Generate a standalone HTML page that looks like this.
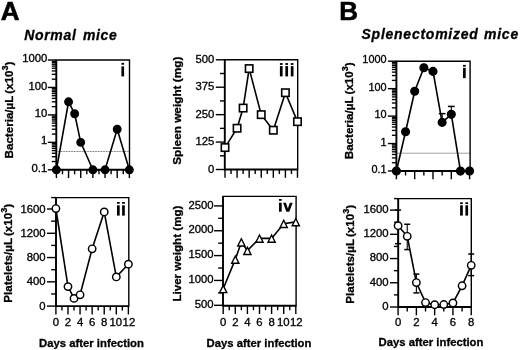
<!DOCTYPE html>
<html><head><meta charset="utf-8"><style>
html,body{margin:0;padding:0;background:#fff;}
svg{display:block;font-family:"Liberation Sans", sans-serif;filter:grayscale(1);}
</style></head><body>
<svg width="520" height="350" viewBox="0 0 520 350" stroke="#000" fill="#000">
<line x1="47.80" y1="60.00" x2="56.30" y2="60.00" stroke-width="1.4" />
<text stroke="#000" stroke-width="0.3" transform="translate(47.30,62.10) scale(1.12,1)" font-size="10.1" text-anchor="end">1000</text>
<line x1="47.80" y1="87.45" x2="56.30" y2="87.45" stroke-width="1.4" />
<text stroke="#000" stroke-width="0.3" transform="translate(47.30,89.55) scale(1.12,1)" font-size="10.1" text-anchor="end">100</text>
<line x1="47.80" y1="114.90" x2="56.30" y2="114.90" stroke-width="1.4" />
<text stroke="#000" stroke-width="0.3" transform="translate(47.30,117.00) scale(1.12,1)" font-size="10.1" text-anchor="end">10</text>
<line x1="47.80" y1="142.35" x2="56.30" y2="142.35" stroke-width="1.4" />
<text stroke="#000" stroke-width="0.3" transform="translate(47.30,144.45) scale(1.12,1)" font-size="10.1" text-anchor="end">1</text>
<line x1="47.80" y1="169.80" x2="56.30" y2="169.80" stroke-width="1.4" />
<text stroke="#000" stroke-width="0.3" transform="translate(47.30,171.90) scale(1.12,1)" font-size="10.1" text-anchor="end">0.1</text>
<line x1="51.80" y1="161.54" x2="56.30" y2="161.54" stroke-width="1.35" />
<line x1="51.80" y1="156.70" x2="56.30" y2="156.70" stroke-width="1.35" />
<line x1="51.80" y1="153.27" x2="56.30" y2="153.27" stroke-width="1.35" />
<line x1="51.80" y1="150.61" x2="56.30" y2="150.61" stroke-width="1.35" />
<line x1="51.80" y1="148.44" x2="56.30" y2="148.44" stroke-width="1.35" />
<line x1="51.80" y1="146.60" x2="56.30" y2="146.60" stroke-width="1.35" />
<line x1="51.80" y1="145.01" x2="56.30" y2="145.01" stroke-width="1.35" />
<line x1="51.80" y1="143.61" x2="56.30" y2="143.61" stroke-width="1.35" />
<line x1="51.80" y1="134.09" x2="56.30" y2="134.09" stroke-width="1.35" />
<line x1="51.80" y1="129.25" x2="56.30" y2="129.25" stroke-width="1.35" />
<line x1="51.80" y1="125.82" x2="56.30" y2="125.82" stroke-width="1.35" />
<line x1="51.80" y1="123.16" x2="56.30" y2="123.16" stroke-width="1.35" />
<line x1="51.80" y1="120.99" x2="56.30" y2="120.99" stroke-width="1.35" />
<line x1="51.80" y1="119.15" x2="56.30" y2="119.15" stroke-width="1.35" />
<line x1="51.80" y1="117.56" x2="56.30" y2="117.56" stroke-width="1.35" />
<line x1="51.80" y1="116.16" x2="56.30" y2="116.16" stroke-width="1.35" />
<line x1="51.80" y1="106.64" x2="56.30" y2="106.64" stroke-width="1.35" />
<line x1="51.80" y1="101.80" x2="56.30" y2="101.80" stroke-width="1.35" />
<line x1="51.80" y1="98.37" x2="56.30" y2="98.37" stroke-width="1.35" />
<line x1="51.80" y1="95.71" x2="56.30" y2="95.71" stroke-width="1.35" />
<line x1="51.80" y1="93.54" x2="56.30" y2="93.54" stroke-width="1.35" />
<line x1="51.80" y1="91.70" x2="56.30" y2="91.70" stroke-width="1.35" />
<line x1="51.80" y1="90.11" x2="56.30" y2="90.11" stroke-width="1.35" />
<line x1="51.80" y1="88.71" x2="56.30" y2="88.71" stroke-width="1.35" />
<line x1="51.80" y1="79.19" x2="56.30" y2="79.19" stroke-width="1.35" />
<line x1="51.80" y1="74.35" x2="56.30" y2="74.35" stroke-width="1.35" />
<line x1="51.80" y1="70.92" x2="56.30" y2="70.92" stroke-width="1.35" />
<line x1="51.80" y1="68.26" x2="56.30" y2="68.26" stroke-width="1.35" />
<line x1="51.80" y1="66.09" x2="56.30" y2="66.09" stroke-width="1.35" />
<line x1="51.80" y1="64.25" x2="56.30" y2="64.25" stroke-width="1.35" />
<line x1="51.80" y1="62.66" x2="56.30" y2="62.66" stroke-width="1.35" />
<line x1="51.80" y1="61.26" x2="56.30" y2="61.26" stroke-width="1.35" />
<line x1="56.30" y1="151.5" x2="129.50" y2="151.5" stroke-width="0.9" stroke="#666" stroke-dasharray="1,0.6"/>
<path d="M129.50,169.80 L129.50,60.00 L56.30,60.00" fill="none" stroke-width="1.4" stroke-linejoin="miter" stroke-linecap="square"/>
<path d="M56.30,60.00 L56.30,169.80 L129.50,169.80" fill="none" stroke-width="1.9" stroke-linejoin="miter" stroke-linecap="butt"/>
<line x1="56.40" y1="169.80" x2="56.40" y2="178.10" stroke-width="1.4" />
<line x1="62.48" y1="169.80" x2="62.48" y2="174.30" stroke-width="1.4" />
<line x1="68.56" y1="169.80" x2="68.56" y2="178.10" stroke-width="1.4" />
<line x1="74.64" y1="169.80" x2="74.64" y2="174.30" stroke-width="1.4" />
<line x1="80.72" y1="169.80" x2="80.72" y2="178.10" stroke-width="1.4" />
<line x1="86.80" y1="169.80" x2="86.80" y2="174.30" stroke-width="1.4" />
<line x1="92.88" y1="169.80" x2="92.88" y2="178.10" stroke-width="1.4" />
<line x1="98.96" y1="169.80" x2="98.96" y2="174.30" stroke-width="1.4" />
<line x1="105.04" y1="169.80" x2="105.04" y2="178.10" stroke-width="1.4" />
<line x1="111.12" y1="169.80" x2="111.12" y2="174.30" stroke-width="1.4" />
<line x1="117.20" y1="169.80" x2="117.20" y2="178.10" stroke-width="1.4" />
<line x1="123.28" y1="169.80" x2="123.28" y2="174.30" stroke-width="1.4" />
<line x1="129.36" y1="169.80" x2="129.36" y2="178.10" stroke-width="1.4" />
<polyline points="56.40,169.80 68.56,101.80 74.64,113.76 80.72,142.35 92.88,169.80 105.04,169.80 117.20,129.25 129.36,169.80" fill="none" stroke="#000" stroke-width="1.6" stroke-linejoin="miter"/>
<circle cx="56.40" cy="169.80" r="3.75" fill="#000" stroke="#000" stroke-width="1.4"/>
<circle cx="68.56" cy="101.80" r="3.75" fill="#000" stroke="#000" stroke-width="1.4"/>
<circle cx="74.64" cy="113.76" r="3.75" fill="#000" stroke="#000" stroke-width="1.4"/>
<circle cx="80.72" cy="142.35" r="3.75" fill="#000" stroke="#000" stroke-width="1.4"/>
<circle cx="92.88" cy="169.80" r="3.75" fill="#000" stroke="#000" stroke-width="1.4"/>
<circle cx="105.04" cy="169.80" r="3.75" fill="#000" stroke="#000" stroke-width="1.4"/>
<circle cx="117.20" cy="129.25" r="3.75" fill="#000" stroke="#000" stroke-width="1.4"/>
<circle cx="129.36" cy="169.80" r="3.75" fill="#000" stroke="#000" stroke-width="1.4"/>
<rect stroke="none" x="121.40" y="62.90" width="2.70" height="1.80"/>
<rect stroke="none" x="121.40" y="66.40" width="2.70" height="10.00"/>
<text stroke="#000" stroke-width="0.3" transform="translate(12.50,110.00) rotate(-90)" font-size="11.6" font-weight="bold" text-anchor="middle" word-spacing="-1">Bacteria/µL (x10<tspan font-size="9" dy="-5">3</tspan><tspan dy="5">)</tspan></text>
<line x1="215.80" y1="169.50" x2="224.80" y2="169.50" stroke-width="1.4" />
<text stroke="#000" stroke-width="0.3" transform="translate(214.40,172.50) scale(1.07,1)" font-size="10.6" text-anchor="end">0</text>
<line x1="215.80" y1="142.07" x2="224.80" y2="142.07" stroke-width="1.4" />
<text stroke="#000" stroke-width="0.3" transform="translate(214.40,145.07) scale(1.07,1)" font-size="10.6" text-anchor="end">125</text>
<line x1="215.80" y1="114.65" x2="224.80" y2="114.65" stroke-width="1.4" />
<text stroke="#000" stroke-width="0.3" transform="translate(214.40,117.65) scale(1.07,1)" font-size="10.6" text-anchor="end">250</text>
<line x1="215.80" y1="87.22" x2="224.80" y2="87.22" stroke-width="1.4" />
<text stroke="#000" stroke-width="0.3" transform="translate(214.40,90.22) scale(1.07,1)" font-size="10.6" text-anchor="end">375</text>
<line x1="215.80" y1="59.80" x2="224.80" y2="59.80" stroke-width="1.4" />
<text stroke="#000" stroke-width="0.3" transform="translate(214.40,62.80) scale(1.07,1)" font-size="10.6" text-anchor="end">500</text>
<line x1="220.00" y1="155.79" x2="224.80" y2="155.79" stroke-width="1.4" />
<line x1="220.00" y1="128.36" x2="224.80" y2="128.36" stroke-width="1.4" />
<line x1="220.00" y1="100.94" x2="224.80" y2="100.94" stroke-width="1.4" />
<line x1="220.00" y1="73.51" x2="224.80" y2="73.51" stroke-width="1.4" />
<path d="M297.70,169.50 L297.70,59.80 L224.80,59.80" fill="none" stroke-width="1.4" stroke-linejoin="miter" stroke-linecap="square"/>
<path d="M224.80,59.80 L224.80,169.50 L297.70,169.50" fill="none" stroke-width="1.9" stroke-linejoin="miter" stroke-linecap="butt"/>
<line x1="225.00" y1="169.50" x2="225.00" y2="177.80" stroke-width="1.4" />
<line x1="231.04" y1="169.50" x2="231.04" y2="174.00" stroke-width="1.4" />
<line x1="237.08" y1="169.50" x2="237.08" y2="177.80" stroke-width="1.4" />
<line x1="243.12" y1="169.50" x2="243.12" y2="174.00" stroke-width="1.4" />
<line x1="249.16" y1="169.50" x2="249.16" y2="177.80" stroke-width="1.4" />
<line x1="255.20" y1="169.50" x2="255.20" y2="174.00" stroke-width="1.4" />
<line x1="261.24" y1="169.50" x2="261.24" y2="177.80" stroke-width="1.4" />
<line x1="267.28" y1="169.50" x2="267.28" y2="174.00" stroke-width="1.4" />
<line x1="273.32" y1="169.50" x2="273.32" y2="177.80" stroke-width="1.4" />
<line x1="279.36" y1="169.50" x2="279.36" y2="174.00" stroke-width="1.4" />
<line x1="285.40" y1="169.50" x2="285.40" y2="177.80" stroke-width="1.4" />
<line x1="291.44" y1="169.50" x2="291.44" y2="174.00" stroke-width="1.4" />
<line x1="297.48" y1="169.50" x2="297.48" y2="177.80" stroke-width="1.4" />
<polyline points="225.00,147.56 237.08,128.25 243.12,108.07 249.16,68.58 261.24,114.65 273.32,130.23 285.40,92.71 297.48,121.67" fill="none" stroke="#000" stroke-width="1.6" stroke-linejoin="miter"/>
<rect x="221.30" y="143.86" width="7.4" height="7.4" fill="#fff" stroke="#000" stroke-width="1.6"/>
<rect x="233.38" y="124.55" width="7.4" height="7.4" fill="#fff" stroke="#000" stroke-width="1.6"/>
<rect x="239.42" y="104.37" width="7.4" height="7.4" fill="#fff" stroke="#000" stroke-width="1.6"/>
<rect x="245.46" y="64.88" width="7.4" height="7.4" fill="#fff" stroke="#000" stroke-width="1.6"/>
<rect x="257.54" y="110.95" width="7.4" height="7.4" fill="#fff" stroke="#000" stroke-width="1.6"/>
<rect x="269.62" y="126.53" width="7.4" height="7.4" fill="#fff" stroke="#000" stroke-width="1.6"/>
<rect x="281.70" y="89.01" width="7.4" height="7.4" fill="#fff" stroke="#000" stroke-width="1.6"/>
<rect x="293.78" y="117.97" width="7.4" height="7.4" fill="#fff" stroke="#000" stroke-width="1.6"/>
<rect stroke="none" x="279.90" y="63.10" width="2.70" height="1.80"/>
<rect stroke="none" x="279.90" y="66.10" width="2.70" height="10.30"/>
<rect stroke="none" x="285.35" y="63.10" width="2.70" height="1.80"/>
<rect stroke="none" x="285.35" y="66.10" width="2.70" height="10.30"/>
<rect stroke="none" x="290.80" y="63.10" width="2.70" height="1.80"/>
<rect stroke="none" x="290.80" y="66.10" width="2.70" height="10.30"/>
<text stroke="#000" stroke-width="0.3" transform="translate(180.90,110.70) rotate(-90)" font-size="11.8" font-weight="bold" text-anchor="middle" word-spacing="0">Spleen weight (mg)</text>
<line x1="47.00" y1="306.10" x2="56.00" y2="306.10" stroke-width="1.4" />
<text stroke="#000" stroke-width="0.3" transform="translate(45.60,309.70) scale(1.07,1)" font-size="10.6" text-anchor="end">0</text>
<line x1="47.00" y1="281.83" x2="56.00" y2="281.83" stroke-width="1.4" />
<text stroke="#000" stroke-width="0.3" transform="translate(45.60,285.43) scale(1.07,1)" font-size="10.6" text-anchor="end">400</text>
<line x1="47.00" y1="257.55" x2="56.00" y2="257.55" stroke-width="1.4" />
<text stroke="#000" stroke-width="0.3" transform="translate(45.60,261.15) scale(1.07,1)" font-size="10.6" text-anchor="end">800</text>
<line x1="47.00" y1="233.28" x2="56.00" y2="233.28" stroke-width="1.4" />
<text stroke="#000" stroke-width="0.3" transform="translate(45.60,236.88) scale(1.07,1)" font-size="10.6" text-anchor="end">1200</text>
<line x1="47.00" y1="209.00" x2="56.00" y2="209.00" stroke-width="1.4" />
<text stroke="#000" stroke-width="0.3" transform="translate(45.60,212.60) scale(1.07,1)" font-size="10.6" text-anchor="end">1600</text>
<line x1="51.20" y1="293.96" x2="56.00" y2="293.96" stroke-width="1.4" />
<line x1="51.20" y1="269.69" x2="56.00" y2="269.69" stroke-width="1.4" />
<line x1="51.20" y1="245.41" x2="56.00" y2="245.41" stroke-width="1.4" />
<line x1="51.20" y1="221.14" x2="56.00" y2="221.14" stroke-width="1.4" />
<line x1="51.20" y1="197.60" x2="56.00" y2="197.60" stroke-width="1.4" />
<path d="M128.80,306.10 L128.80,197.60 L56.00,197.60" fill="none" stroke-width="1.4" stroke-linejoin="miter" stroke-linecap="square"/>
<path d="M56.00,197.60 L56.00,306.10 L128.80,306.10" fill="none" stroke-width="1.9" stroke-linejoin="miter" stroke-linecap="butt"/>
<line x1="55.90" y1="306.10" x2="55.90" y2="314.40" stroke-width="1.4" />
<line x1="61.94" y1="306.10" x2="61.94" y2="310.60" stroke-width="1.4" />
<line x1="67.98" y1="306.10" x2="67.98" y2="314.40" stroke-width="1.4" />
<line x1="74.02" y1="306.10" x2="74.02" y2="310.60" stroke-width="1.4" />
<line x1="80.06" y1="306.10" x2="80.06" y2="314.40" stroke-width="1.4" />
<line x1="86.10" y1="306.10" x2="86.10" y2="310.60" stroke-width="1.4" />
<line x1="92.14" y1="306.10" x2="92.14" y2="314.40" stroke-width="1.4" />
<line x1="98.18" y1="306.10" x2="98.18" y2="310.60" stroke-width="1.4" />
<line x1="104.22" y1="306.10" x2="104.22" y2="314.40" stroke-width="1.4" />
<line x1="110.26" y1="306.10" x2="110.26" y2="310.60" stroke-width="1.4" />
<line x1="116.30" y1="306.10" x2="116.30" y2="314.40" stroke-width="1.4" />
<line x1="122.34" y1="306.10" x2="122.34" y2="310.60" stroke-width="1.4" />
<line x1="128.38" y1="306.10" x2="128.38" y2="314.40" stroke-width="1.4" />
<text stroke="#000" stroke-width="0.3" transform="translate(55.90,326.00) scale(1.07,1)" font-size="10.6" text-anchor="middle">0</text>
<text stroke="#000" stroke-width="0.3" transform="translate(67.98,326.00) scale(1.07,1)" font-size="10.6" text-anchor="middle">2</text>
<text stroke="#000" stroke-width="0.3" transform="translate(80.06,326.00) scale(1.07,1)" font-size="10.6" text-anchor="middle">4</text>
<text stroke="#000" stroke-width="0.3" transform="translate(92.14,326.00) scale(1.07,1)" font-size="10.6" text-anchor="middle">6</text>
<text stroke="#000" stroke-width="0.3" transform="translate(104.22,326.00) scale(1.07,1)" font-size="10.6" text-anchor="middle">8</text>
<text stroke="#000" stroke-width="0.3" transform="translate(115.80,326.00) scale(1.07,1)" font-size="10.6" text-anchor="middle">10</text>
<text stroke="#000" stroke-width="0.3" transform="translate(128.88,326.00) scale(1.07,1)" font-size="10.6" text-anchor="middle">12</text>
<polyline points="55.90,208.58 67.98,286.62 74.02,298.39 80.06,294.81 92.14,248.81 104.22,211.91 116.30,276.91 128.38,264.23" fill="none" stroke="#000" stroke-width="1.6" stroke-linejoin="miter"/>
<circle cx="55.90" cy="208.58" r="3.7" fill="#fff" stroke="#000" stroke-width="1.45"/>
<circle cx="67.98" cy="286.62" r="3.7" fill="#fff" stroke="#000" stroke-width="1.45"/>
<circle cx="74.02" cy="298.39" r="3.7" fill="#fff" stroke="#000" stroke-width="1.45"/>
<circle cx="80.06" cy="294.81" r="3.7" fill="#fff" stroke="#000" stroke-width="1.45"/>
<circle cx="92.14" cy="248.81" r="3.7" fill="#fff" stroke="#000" stroke-width="1.45"/>
<circle cx="104.22" cy="211.91" r="3.7" fill="#fff" stroke="#000" stroke-width="1.45"/>
<circle cx="116.30" cy="276.91" r="3.7" fill="#fff" stroke="#000" stroke-width="1.45"/>
<circle cx="128.38" cy="264.23" r="3.7" fill="#fff" stroke="#000" stroke-width="1.45"/>
<rect stroke="none" x="117.00" y="202.00" width="2.70" height="1.80"/>
<rect stroke="none" x="117.00" y="205.30" width="2.70" height="10.30"/>
<rect stroke="none" x="122.10" y="202.00" width="2.70" height="1.80"/>
<rect stroke="none" x="122.10" y="205.30" width="2.70" height="10.30"/>
<text stroke="#000" stroke-width="0.3" transform="translate(12.20,253.30) rotate(-90)" font-size="11.6" font-weight="bold" text-anchor="middle" word-spacing="-1">Platelets/µL (x10<tspan font-size="9" dy="-5">3</tspan><tspan dy="5">)</tspan></text>
<text x="91.50" y="347.20" font-size="11.3" text-anchor="middle" font-weight="bold" font-style="normal" stroke="#000" stroke-width="0.3">Days after infection</text>
<line x1="214.00" y1="305.30" x2="223.00" y2="305.30" stroke-width="1.4" />
<text stroke="#000" stroke-width="0.3" transform="translate(213.60,307.90) scale(1.12,1)" font-size="10.1" text-anchor="end">500</text>
<line x1="214.00" y1="280.45" x2="223.00" y2="280.45" stroke-width="1.4" />
<text stroke="#000" stroke-width="0.3" transform="translate(213.60,283.05) scale(1.12,1)" font-size="10.1" text-anchor="end">1000</text>
<line x1="214.00" y1="255.60" x2="223.00" y2="255.60" stroke-width="1.4" />
<text stroke="#000" stroke-width="0.3" transform="translate(213.60,258.20) scale(1.12,1)" font-size="10.1" text-anchor="end">1500</text>
<line x1="214.00" y1="230.75" x2="223.00" y2="230.75" stroke-width="1.4" />
<text stroke="#000" stroke-width="0.3" transform="translate(213.60,233.35) scale(1.12,1)" font-size="10.1" text-anchor="end">2000</text>
<line x1="214.00" y1="205.90" x2="223.00" y2="205.90" stroke-width="1.4" />
<text stroke="#000" stroke-width="0.3" transform="translate(213.60,208.50) scale(1.12,1)" font-size="10.1" text-anchor="end">2500</text>
<line x1="218.20" y1="292.88" x2="223.00" y2="292.88" stroke-width="1.4" />
<line x1="218.20" y1="268.03" x2="223.00" y2="268.03" stroke-width="1.4" />
<line x1="218.20" y1="243.18" x2="223.00" y2="243.18" stroke-width="1.4" />
<line x1="218.20" y1="218.32" x2="223.00" y2="218.32" stroke-width="1.4" />
<path d="M296.10,305.70 L296.10,196.40 L223.00,196.40" fill="none" stroke-width="1.4" stroke-linejoin="miter" stroke-linecap="square"/>
<path d="M223.00,196.40 L223.00,305.70 L296.10,305.70" fill="none" stroke-width="1.9" stroke-linejoin="miter" stroke-linecap="butt"/>
<line x1="223.20" y1="305.70" x2="223.20" y2="314.00" stroke-width="1.4" />
<line x1="229.25" y1="305.70" x2="229.25" y2="310.20" stroke-width="1.4" />
<line x1="235.30" y1="305.70" x2="235.30" y2="314.00" stroke-width="1.4" />
<line x1="241.35" y1="305.70" x2="241.35" y2="310.20" stroke-width="1.4" />
<line x1="247.40" y1="305.70" x2="247.40" y2="314.00" stroke-width="1.4" />
<line x1="253.45" y1="305.70" x2="253.45" y2="310.20" stroke-width="1.4" />
<line x1="259.50" y1="305.70" x2="259.50" y2="314.00" stroke-width="1.4" />
<line x1="265.55" y1="305.70" x2="265.55" y2="310.20" stroke-width="1.4" />
<line x1="271.60" y1="305.70" x2="271.60" y2="314.00" stroke-width="1.4" />
<line x1="277.65" y1="305.70" x2="277.65" y2="310.20" stroke-width="1.4" />
<line x1="283.70" y1="305.70" x2="283.70" y2="314.00" stroke-width="1.4" />
<line x1="289.75" y1="305.70" x2="289.75" y2="310.20" stroke-width="1.4" />
<line x1="295.80" y1="305.70" x2="295.80" y2="314.00" stroke-width="1.4" />
<text stroke="#000" stroke-width="0.3" transform="translate(223.20,326.00) scale(1.07,1)" font-size="10.6" text-anchor="middle">0</text>
<text stroke="#000" stroke-width="0.3" transform="translate(235.30,326.00) scale(1.07,1)" font-size="10.6" text-anchor="middle">2</text>
<text stroke="#000" stroke-width="0.3" transform="translate(247.40,326.00) scale(1.07,1)" font-size="10.6" text-anchor="middle">4</text>
<text stroke="#000" stroke-width="0.3" transform="translate(259.50,326.00) scale(1.07,1)" font-size="10.6" text-anchor="middle">6</text>
<text stroke="#000" stroke-width="0.3" transform="translate(271.60,326.00) scale(1.07,1)" font-size="10.6" text-anchor="middle">8</text>
<text stroke="#000" stroke-width="0.3" transform="translate(283.20,326.00) scale(1.07,1)" font-size="10.6" text-anchor="middle">10</text>
<text stroke="#000" stroke-width="0.3" transform="translate(296.30,326.00) scale(1.07,1)" font-size="10.6" text-anchor="middle">12</text>
<polyline points="223.20,288.80 235.30,259.38 241.35,242.18 247.40,250.63 259.50,238.40 271.60,238.40 283.70,223.69 295.80,221.90" fill="none" stroke="#000" stroke-width="1.6" stroke-linejoin="miter"/>
<polygon points="223.20,285.40 226.80,292.60 219.60,292.60" fill="#fff" stroke="#000" stroke-width="1.4" stroke-linejoin="miter"/>
<polygon points="235.30,255.98 238.90,263.18 231.70,263.18" fill="#fff" stroke="#000" stroke-width="1.4" stroke-linejoin="miter"/>
<polygon points="241.35,238.78 244.95,245.98 237.75,245.98" fill="#fff" stroke="#000" stroke-width="1.4" stroke-linejoin="miter"/>
<polygon points="247.40,247.23 251.00,254.43 243.80,254.43" fill="#fff" stroke="#000" stroke-width="1.4" stroke-linejoin="miter"/>
<polygon points="259.50,235.00 263.10,242.20 255.90,242.20" fill="#fff" stroke="#000" stroke-width="1.4" stroke-linejoin="miter"/>
<polygon points="271.60,235.00 275.20,242.20 268.00,242.20" fill="#fff" stroke="#000" stroke-width="1.4" stroke-linejoin="miter"/>
<polygon points="283.70,220.29 287.30,227.49 280.10,227.49" fill="#fff" stroke="#000" stroke-width="1.4" stroke-linejoin="miter"/>
<polygon points="295.80,218.50 299.40,225.70 292.20,225.70" fill="#fff" stroke="#000" stroke-width="1.4" stroke-linejoin="miter"/>
<rect stroke="none" x="279.00" y="199.00" width="2.70" height="1.80"/>
<rect stroke="none" x="279.00" y="202.70" width="2.70" height="9.00"/>
<polygon stroke="none" points="283.05,202.70 285.85,202.70 287.85,208.50 289.85,202.70 292.65,202.70 289.30,211.70 286.40,211.70"/>
<text stroke="#000" stroke-width="0.3" transform="translate(180.50,253.60) rotate(-90)" font-size="11.6" font-weight="bold" text-anchor="middle" word-spacing="0">Liver weight (mg)</text>
<text x="259.00" y="347.20" font-size="11.3" text-anchor="middle" font-weight="bold" font-style="normal" stroke="#000" stroke-width="0.3">Days after infection</text>
<line x1="387.90" y1="61.20" x2="396.40" y2="61.20" stroke-width="1.4" />
<text stroke="#000" stroke-width="0.3" transform="translate(386.60,63.30) scale(1.08,1)" font-size="10.1" text-anchor="end">1000</text>
<line x1="387.90" y1="88.65" x2="396.40" y2="88.65" stroke-width="1.4" />
<text stroke="#000" stroke-width="0.3" transform="translate(386.60,90.75) scale(1.08,1)" font-size="10.1" text-anchor="end">100</text>
<line x1="387.90" y1="116.10" x2="396.40" y2="116.10" stroke-width="1.4" />
<text stroke="#000" stroke-width="0.3" transform="translate(386.60,118.20) scale(1.08,1)" font-size="10.1" text-anchor="end">10</text>
<line x1="387.90" y1="143.55" x2="396.40" y2="143.55" stroke-width="1.4" />
<text stroke="#000" stroke-width="0.3" transform="translate(386.60,145.65) scale(1.08,1)" font-size="10.1" text-anchor="end">1</text>
<line x1="387.90" y1="171.00" x2="396.40" y2="171.00" stroke-width="1.4" />
<text stroke="#000" stroke-width="0.3" transform="translate(386.60,173.10) scale(1.08,1)" font-size="10.1" text-anchor="end">0.1</text>
<line x1="391.90" y1="162.74" x2="396.40" y2="162.74" stroke-width="1.35" />
<line x1="391.90" y1="157.90" x2="396.40" y2="157.90" stroke-width="1.35" />
<line x1="391.90" y1="154.47" x2="396.40" y2="154.47" stroke-width="1.35" />
<line x1="391.90" y1="151.81" x2="396.40" y2="151.81" stroke-width="1.35" />
<line x1="391.90" y1="149.64" x2="396.40" y2="149.64" stroke-width="1.35" />
<line x1="391.90" y1="147.80" x2="396.40" y2="147.80" stroke-width="1.35" />
<line x1="391.90" y1="146.21" x2="396.40" y2="146.21" stroke-width="1.35" />
<line x1="391.90" y1="144.81" x2="396.40" y2="144.81" stroke-width="1.35" />
<line x1="391.90" y1="135.29" x2="396.40" y2="135.29" stroke-width="1.35" />
<line x1="391.90" y1="130.45" x2="396.40" y2="130.45" stroke-width="1.35" />
<line x1="391.90" y1="127.02" x2="396.40" y2="127.02" stroke-width="1.35" />
<line x1="391.90" y1="124.36" x2="396.40" y2="124.36" stroke-width="1.35" />
<line x1="391.90" y1="122.19" x2="396.40" y2="122.19" stroke-width="1.35" />
<line x1="391.90" y1="120.35" x2="396.40" y2="120.35" stroke-width="1.35" />
<line x1="391.90" y1="118.76" x2="396.40" y2="118.76" stroke-width="1.35" />
<line x1="391.90" y1="117.36" x2="396.40" y2="117.36" stroke-width="1.35" />
<line x1="391.90" y1="107.84" x2="396.40" y2="107.84" stroke-width="1.35" />
<line x1="391.90" y1="103.00" x2="396.40" y2="103.00" stroke-width="1.35" />
<line x1="391.90" y1="99.57" x2="396.40" y2="99.57" stroke-width="1.35" />
<line x1="391.90" y1="96.91" x2="396.40" y2="96.91" stroke-width="1.35" />
<line x1="391.90" y1="94.74" x2="396.40" y2="94.74" stroke-width="1.35" />
<line x1="391.90" y1="92.90" x2="396.40" y2="92.90" stroke-width="1.35" />
<line x1="391.90" y1="91.31" x2="396.40" y2="91.31" stroke-width="1.35" />
<line x1="391.90" y1="89.91" x2="396.40" y2="89.91" stroke-width="1.35" />
<line x1="391.90" y1="80.39" x2="396.40" y2="80.39" stroke-width="1.35" />
<line x1="391.90" y1="75.55" x2="396.40" y2="75.55" stroke-width="1.35" />
<line x1="391.90" y1="72.12" x2="396.40" y2="72.12" stroke-width="1.35" />
<line x1="391.90" y1="69.46" x2="396.40" y2="69.46" stroke-width="1.35" />
<line x1="391.90" y1="67.29" x2="396.40" y2="67.29" stroke-width="1.35" />
<line x1="391.90" y1="65.45" x2="396.40" y2="65.45" stroke-width="1.35" />
<line x1="391.90" y1="63.86" x2="396.40" y2="63.86" stroke-width="1.35" />
<line x1="391.90" y1="62.46" x2="396.40" y2="62.46" stroke-width="1.35" />
<line x1="396.40" y1="153.2" x2="470.10" y2="153.2" stroke-width="0.9" stroke="#999"/>
<path d="M470.10,171.00 L470.10,61.20 L396.40,61.20" fill="none" stroke-width="1.4" stroke-linejoin="miter" stroke-linecap="square"/>
<path d="M396.40,61.20 L396.40,171.00 L470.10,171.00" fill="none" stroke-width="1.9" stroke-linejoin="miter" stroke-linecap="butt"/>
<line x1="396.40" y1="171.00" x2="396.40" y2="179.30" stroke-width="1.4" />
<line x1="405.55" y1="171.00" x2="405.55" y2="175.50" stroke-width="1.4" />
<line x1="414.70" y1="171.00" x2="414.70" y2="179.30" stroke-width="1.4" />
<line x1="423.85" y1="171.00" x2="423.85" y2="175.50" stroke-width="1.4" />
<line x1="433.00" y1="171.00" x2="433.00" y2="179.30" stroke-width="1.4" />
<line x1="442.15" y1="171.00" x2="442.15" y2="175.50" stroke-width="1.4" />
<line x1="451.30" y1="171.00" x2="451.30" y2="179.30" stroke-width="1.4" />
<line x1="460.45" y1="171.00" x2="460.45" y2="175.50" stroke-width="1.4" />
<line x1="469.60" y1="171.00" x2="469.60" y2="179.30" stroke-width="1.4" />
<line x1="442.15" y1="113.63" x2="442.15" y2="122.39" stroke-width="1.1" />
<line x1="438.75" y1="113.63" x2="445.55" y2="113.63" stroke-width="1.5" />
<line x1="451.30" y1="106.43" x2="451.30" y2="114.33" stroke-width="1.1" />
<line x1="447.90" y1="106.43" x2="454.70" y2="106.43" stroke-width="1.5" />
<polyline points="396.40,171.00 405.55,131.71 414.70,91.31 423.85,67.69 433.00,71.40 442.15,122.39 451.30,114.33 460.45,171.00 469.60,171.00" fill="none" stroke="#000" stroke-width="1.6" stroke-linejoin="miter"/>
<circle cx="396.40" cy="171.00" r="3.85" fill="#000" stroke="#000" stroke-width="1.4"/>
<circle cx="405.55" cy="131.71" r="3.85" fill="#000" stroke="#000" stroke-width="1.4"/>
<circle cx="414.70" cy="91.31" r="3.85" fill="#000" stroke="#000" stroke-width="1.4"/>
<circle cx="423.85" cy="67.69" r="3.85" fill="#000" stroke="#000" stroke-width="1.4"/>
<circle cx="433.00" cy="71.40" r="3.85" fill="#000" stroke="#000" stroke-width="1.4"/>
<circle cx="442.15" cy="122.39" r="3.85" fill="#000" stroke="#000" stroke-width="1.4"/>
<circle cx="451.30" cy="114.33" r="3.85" fill="#000" stroke="#000" stroke-width="1.4"/>
<circle cx="460.45" cy="171.00" r="3.85" fill="#000" stroke="#000" stroke-width="1.4"/>
<circle cx="469.60" cy="171.00" r="3.85" fill="#000" stroke="#000" stroke-width="1.4"/>
<rect stroke="none" x="463.00" y="64.90" width="2.70" height="1.80"/>
<rect stroke="none" x="463.00" y="67.90" width="2.70" height="10.20"/>
<text stroke="#000" stroke-width="0.3" transform="translate(352.70,110.80) rotate(-90)" font-size="11.6" font-weight="bold" text-anchor="middle" word-spacing="-1">Bacteria/µL (x10<tspan font-size="9" dy="-5">3</tspan><tspan dy="5">)</tspan></text>
<line x1="390.00" y1="307.00" x2="398.20" y2="307.00" stroke-width="1.4" />
<text stroke="#000" stroke-width="0.3" transform="translate(388.60,309.80) scale(1.07,1)" font-size="10.6" text-anchor="end">0</text>
<line x1="390.00" y1="282.77" x2="398.20" y2="282.77" stroke-width="1.4" />
<text stroke="#000" stroke-width="0.3" transform="translate(388.60,285.57) scale(1.07,1)" font-size="10.6" text-anchor="end">400</text>
<line x1="390.00" y1="258.55" x2="398.20" y2="258.55" stroke-width="1.4" />
<text stroke="#000" stroke-width="0.3" transform="translate(388.60,261.35) scale(1.07,1)" font-size="10.6" text-anchor="end">800</text>
<line x1="390.00" y1="234.32" x2="398.20" y2="234.32" stroke-width="1.4" />
<text stroke="#000" stroke-width="0.3" transform="translate(388.60,237.12) scale(1.07,1)" font-size="10.6" text-anchor="end">1200</text>
<line x1="390.00" y1="210.10" x2="398.20" y2="210.10" stroke-width="1.4" />
<text stroke="#000" stroke-width="0.3" transform="translate(388.60,212.90) scale(1.07,1)" font-size="10.6" text-anchor="end">1600</text>
<line x1="394.00" y1="294.89" x2="398.20" y2="294.89" stroke-width="1.4" />
<line x1="394.00" y1="270.66" x2="398.20" y2="270.66" stroke-width="1.4" />
<line x1="394.00" y1="246.44" x2="398.20" y2="246.44" stroke-width="1.4" />
<line x1="394.00" y1="222.21" x2="398.20" y2="222.21" stroke-width="1.4" />
<line x1="394.00" y1="198.60" x2="398.20" y2="198.60" stroke-width="1.4" />
<path d="M471.30,307.00 L471.30,198.60 L398.20,198.60" fill="none" stroke-width="1.4" stroke-linejoin="miter" stroke-linecap="square"/>
<path d="M398.20,198.60 L398.20,307.00 L471.30,307.00" fill="none" stroke-width="1.9" stroke-linejoin="miter" stroke-linecap="butt"/>
<line x1="398.10" y1="307.00" x2="398.10" y2="315.30" stroke-width="1.4" />
<line x1="407.24" y1="307.00" x2="407.24" y2="311.50" stroke-width="1.4" />
<line x1="416.38" y1="307.00" x2="416.38" y2="315.30" stroke-width="1.4" />
<line x1="425.52" y1="307.00" x2="425.52" y2="311.50" stroke-width="1.4" />
<line x1="434.66" y1="307.00" x2="434.66" y2="315.30" stroke-width="1.4" />
<line x1="443.80" y1="307.00" x2="443.80" y2="311.50" stroke-width="1.4" />
<line x1="452.94" y1="307.00" x2="452.94" y2="315.30" stroke-width="1.4" />
<line x1="462.08" y1="307.00" x2="462.08" y2="311.50" stroke-width="1.4" />
<line x1="471.22" y1="307.00" x2="471.22" y2="315.30" stroke-width="1.4" />
<text stroke="#000" stroke-width="0.3" transform="translate(398.10,326.30) scale(1.07,1)" font-size="10.6" text-anchor="middle">0</text>
<text stroke="#000" stroke-width="0.3" transform="translate(416.38,326.30) scale(1.07,1)" font-size="10.6" text-anchor="middle">2</text>
<text stroke="#000" stroke-width="0.3" transform="translate(434.66,326.30) scale(1.07,1)" font-size="10.6" text-anchor="middle">4</text>
<text stroke="#000" stroke-width="0.3" transform="translate(452.94,326.30) scale(1.07,1)" font-size="10.6" text-anchor="middle">6</text>
<text stroke="#000" stroke-width="0.3" transform="translate(471.22,326.30) scale(1.07,1)" font-size="10.6" text-anchor="middle">8</text>
<line x1="398.10" y1="243.71" x2="398.10" y2="210.10" stroke-width="1.1" />
<line x1="395.10" y1="243.71" x2="401.10" y2="243.71" stroke-width="1.5" />
<line x1="395.10" y1="210.10" x2="401.10" y2="210.10" stroke-width="1.5" />
<line x1="407.24" y1="249.59" x2="407.24" y2="224.27" stroke-width="1.1" />
<line x1="404.24" y1="249.59" x2="410.24" y2="249.59" stroke-width="1.5" />
<line x1="404.24" y1="224.27" x2="410.24" y2="224.27" stroke-width="1.5" />
<line x1="416.38" y1="292.89" x2="416.38" y2="274.11" stroke-width="1.1" />
<line x1="413.38" y1="292.89" x2="419.38" y2="292.89" stroke-width="1.5" />
<line x1="413.38" y1="274.11" x2="419.38" y2="274.11" stroke-width="1.5" />
<line x1="471.22" y1="275.63" x2="471.22" y2="254.01" stroke-width="1.1" />
<line x1="468.22" y1="275.63" x2="474.22" y2="275.63" stroke-width="1.5" />
<line x1="468.22" y1="254.01" x2="474.22" y2="254.01" stroke-width="1.5" />
<polyline points="398.10,225.73 407.24,236.32 416.38,282.59 425.52,302.58 434.66,304.70 443.80,304.52 452.94,303.00 462.08,285.80 471.22,265.33" fill="none" stroke="#000" stroke-width="1.6" stroke-linejoin="miter"/>
<circle cx="398.10" cy="225.73" r="3.7" fill="#fff" stroke="#000" stroke-width="1.45"/>
<circle cx="407.24" cy="236.32" r="3.7" fill="#fff" stroke="#000" stroke-width="1.45"/>
<circle cx="416.38" cy="282.59" r="3.7" fill="#fff" stroke="#000" stroke-width="1.45"/>
<circle cx="425.52" cy="302.58" r="3.7" fill="#fff" stroke="#000" stroke-width="1.45"/>
<circle cx="434.66" cy="304.70" r="3.7" fill="#fff" stroke="#000" stroke-width="1.45"/>
<circle cx="443.80" cy="304.52" r="3.7" fill="#fff" stroke="#000" stroke-width="1.45"/>
<circle cx="452.94" cy="303.00" r="3.7" fill="#fff" stroke="#000" stroke-width="1.45"/>
<circle cx="462.08" cy="285.80" r="3.7" fill="#fff" stroke="#000" stroke-width="1.45"/>
<circle cx="471.22" cy="265.33" r="3.7" fill="#fff" stroke="#000" stroke-width="1.45"/>
<rect stroke="none" x="460.10" y="202.30" width="2.70" height="1.80"/>
<rect stroke="none" x="460.10" y="205.30" width="2.70" height="10.30"/>
<rect stroke="none" x="465.40" y="202.30" width="2.70" height="1.80"/>
<rect stroke="none" x="465.40" y="205.30" width="2.70" height="10.30"/>
<text stroke="#000" stroke-width="0.3" transform="translate(353.80,254.30) rotate(-90)" font-size="11.6" font-weight="bold" text-anchor="middle" word-spacing="-1">Platelets/µL (x10<tspan font-size="9" dy="-5">3</tspan><tspan dy="5">)</tspan></text>
<text x="431.00" y="346.00" font-size="11.3" text-anchor="middle" font-weight="bold" font-style="normal" stroke="#000" stroke-width="0.3">Days after infection</text>
<text x="0.80" y="19.80" font-size="26" text-anchor="start" font-weight="bold" font-style="normal" stroke="#000" stroke-width="0.6">A</text>
<text x="339.30" y="19.80" font-size="26" text-anchor="start" font-weight="bold" font-style="normal" stroke="#000" stroke-width="0.6">B</text>
<text x="24.30" y="39.80" font-size="14" text-anchor="start" font-weight="bold" font-style="italic" letter-spacing="0.65" word-spacing="2" stroke="#000" stroke-width="0.3">Normal mice</text>
<text x="361.50" y="38.80" font-size="14" text-anchor="start" font-weight="bold" font-style="italic" letter-spacing="0.75" word-spacing="0.8" stroke="#000" stroke-width="0.3">Splenectomized mice</text>
</svg>
</body></html>
